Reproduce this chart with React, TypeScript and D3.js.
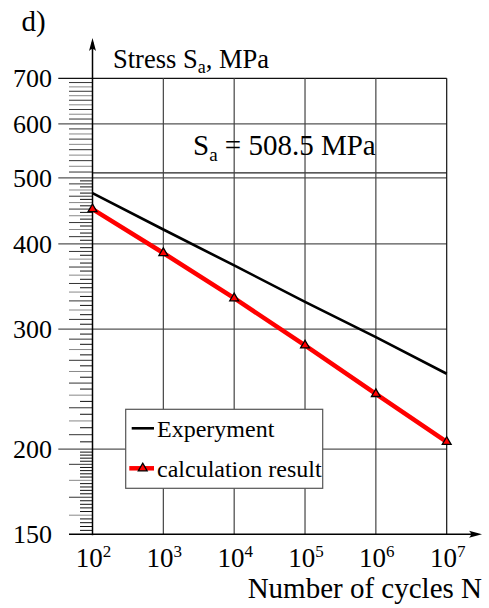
import React, { useEffect, useRef } from "react";
import * as d3 from "d3";

// values
const cycles = [1e2, 1e3, 1e4, 1e5, 1e6, 1e7];
const experiment = [475, 420, 372, 329, 292, 258];
const calculation = [450, 388, 333, 284, 241, 205];
const stressTicks = [150, 200, 300, 400, 500, 600, 700];
const cycleExponents = [2, 3, 4, 5, 6, 7];
const limitStress = 508.5;
const legendLabels = ["Experyment", "calculation result"];

const W = 489;
const H = 608;
const FONT = "'Liberation Serif', 'Times New Roman', serif";

export default function App() {
  const svgRef = useRef<SVGSVGElement>(null);

  useEffect(() => {
    if (!svgRef.current) return;
    const svg = d3.select(svgRef.current);
    svg.selectAll("*").remove();

    const x = d3.scaleLog().domain([1e2, 1e7]).range([92.5, 446.7]);
    const y = d3.scaleLog().domain([150, 700]).range([534.3, 78.3]);
    const left = x(1e2);
    const right = x(1e7);
    const top = y(700);
    const bottom = y(150);

    // minor ticks on the stress axis
    const minor = [
      ...d3.range(152, 200, 2),
      ...d3.range(205, 500, 5),
      ...d3.range(510, 700, 10),
    ].filter((v) => !stressTicks.includes(v));

    svg.append("g")
      .selectAll("line")
      .data(minor)
      .join("line")
      .attr("x1", (d) => (d % 10 === 0 ? 69 : 80))
      .attr("x2", left)
      .attr("y1", (d) => y(d))
      .attr("y2", (d) => y(d))
      .attr("stroke", (d) => (d % 10 === 0 ? (d % 20 === 0 ? "#888" : "#333") : "#111"))
      .attr("stroke-width", 1);

    // horizontal grid
    svg.append("g")
      .selectAll("line")
      .data(stressTicks.filter((v) => v !== 150))
      .join("line")
      .attr("x1", 58.3)
      .attr("x2", right)
      .attr("y1", (d) => y(d))
      .attr("y2", (d) => y(d))
      .attr("stroke", (d) => (d === 700 ? "#111" : "#555"))
      .attr("stroke-width", 1.2);

    svg.append("line")
      .attr("x1", left)
      .attr("x2", right)
      .attr("y1", y(limitStress))
      .attr("y2", y(limitStress))
      .attr("stroke", "#222")
      .attr("stroke-width", 1.2);

    // vertical grid
    svg.append("g")
      .selectAll("line")
      .data(cycles.slice(1))
      .join("line")
      .attr("x1", (d) => x(d))
      .attr("x2", (d) => x(d))
      .attr("y1", top)
      .attr("y2", bottom)
      .attr("stroke", (d) => (d === 1e7 ? "#111" : "#444"))
      .attr("stroke-width", 1.2);

    // axes with arrows
    svg.append("line")
      .attr("x1", left).attr("x2", left)
      .attr("y1", bottom + 1).attr("y2", 42)
      .attr("stroke", "#000").attr("stroke-width", 1.5);
    svg.append("path")
      .attr("d", `M${left},38 L${left - 3.5},51 Q${left},47 ${left + 3.5},51 Z`)
      .attr("fill", "#000");

    svg.append("line")
      .attr("x1", 69).attr("x2", 478)
      .attr("y1", bottom).attr("y2", bottom)
      .attr("stroke", "#000").attr("stroke-width", 1.5);
    svg.append("path")
      .attr("d", `M482,${bottom} L469,${bottom - 3.5} Q473,${bottom} 469,${bottom + 3.5} Z`)
      .attr("fill", "#000");

    // stress tick labels
    svg.append("g")
      .selectAll("text")
      .data(stressTicks)
      .join("text")
      .attr("x", 52)
      .attr("y", (d) => y(d) + 9)
      .attr("text-anchor", "end")
      .style("font-family", FONT)
      .style("font-size", "26px")
      .text((d) => d);

    // cycle tick labels
    const xl = svg.append("g")
      .selectAll("text")
      .data(cycleExponents)
      .join("text")
      .attr("x", (d) => x(Math.pow(10, d)) + 1)
      .attr("y", 566.7)
      .attr("text-anchor", "middle")
      .style("font-family", FONT)
      .style("font-size", "27px");
    xl.append("tspan").text("10");
    xl.append("tspan")
      .attr("dy", -10)
      .style("font-size", "17px")
      .text((d) => d);

    // lines
    const line = d3.line<number>()
      .x((d, i) => x(cycles[i]))
      .y((d) => y(d));

    svg.append("path")
      .datum(experiment)
      .attr("d", line)
      .attr("fill", "none")
      .attr("stroke", "#000")
      .attr("stroke-width", 2.6);

    svg.append("path")
      .datum(calculation)
      .attr("d", line)
      .attr("fill", "none")
      .attr("stroke", "#ff0000")
      .attr("stroke-width", 4.5);

    const tri = d3.symbol().type(d3.symbolTriangle).size(34);
    svg.append("g")
      .selectAll("path")
      .data(calculation)
      .join("path")
      .attr("d", tri)
      .attr("transform", (d, i) => `translate(${x(cycles[i])},${y(d)})`)
      .attr("fill", "#ff0000")
      .attr("stroke", "#000")
      .attr("stroke-width", 1.3);

    // legend
    const lg = svg.append("g");
    lg.append("rect")
      .attr("x", 125.7).attr("y", 409.3)
      .attr("width", 197).attr("height", 79)
      .attr("fill", "#fff")
      .attr("stroke", "#555")
      .attr("stroke-width", 1.2);
    lg.append("line")
      .attr("x1", 131.7).attr("x2", 154)
      .attr("y1", 428.3).attr("y2", 428.3)
      .attr("stroke", "#000").attr("stroke-width", 2.6);
    lg.append("line")
      .attr("x1", 129.3).attr("x2", 154)
      .attr("y1", 468.3).attr("y2", 468.3)
      .attr("stroke", "#ff0000").attr("stroke-width", 4.5);
    lg.append("path")
      .attr("d", tri)
      .attr("transform", "translate(142.7,468.3)")
      .attr("fill", "#ff0000")
      .attr("stroke", "#000")
      .attr("stroke-width", 1.3);
    lg.selectAll("text.lab")
      .data(legendLabels)
      .join("text")
      .attr("class", "lab")
      .attr("x", 157)
      .attr("y", (d, i) => 437 + i * 40)
      .style("font-family", FONT)
      .style("font-size", "24px")
      .text((d) => d);

    // titles
    svg.append("text")
      .attr("x", 21.5).attr("y", 31)
      .style("font-family", FONT).style("font-size", "29px")
      .text("d)");

    const st = svg.append("text")
      .attr("x", 113).attr("y", 68)
      .style("font-family", FONT).style("font-size", "26.5px");
    st.append("tspan").text("Stress S");
    st.append("tspan").attr("dy", 5).style("font-size", "18px").text("a");
    st.append("tspan").attr("dy", -5).text(", MPa");

    const sa = svg.append("text")
      .attr("x", 193).attr("y", 155)
      .style("font-family", FONT).style("font-size", "29px");
    sa.append("tspan").text("S");
    sa.append("tspan").attr("dy", 6).style("font-size", "19px").text("a");
    sa.append("tspan").attr("dy", -6).text(` = ${limitStress} MPa`);

    svg.append("text")
      .attr("x", 482).attr("y", 598)
      .attr("text-anchor", "end")
      .style("font-family", FONT).style("font-size", "29px")
      .text("Number of cycles N");
  }, []);

  return (
    <svg
      ref={svgRef}
      width={W}
      height={H}
      style={{ position: "absolute", left: 0, top: 0, background: "#fff" }}
    />
  );
}
